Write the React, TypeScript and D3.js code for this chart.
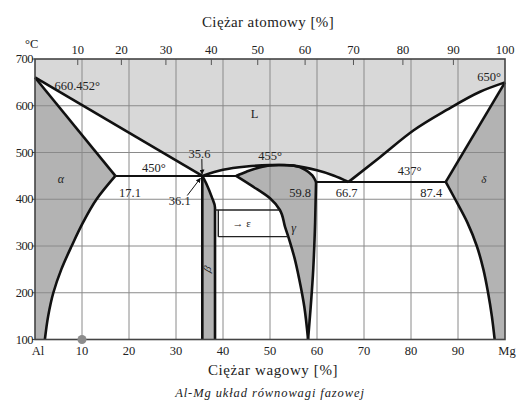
import React from 'react';
import * as d3 from 'd3';

type P = [number, number];

// axis data
const weightTicks = [0, 10, 20, 30, 40, 50, 60, 70, 80, 90, 100];
const weightLabels = ['Al', '10', '20', '30', '40', '50', '60', '70', '80', '90', 'Mg'];
const atomicTicks = [10, 20, 30, 40, 50, 60, 70, 80, 90, 100];
const tempTicks = [100, 200, 300, 400, 500, 600, 700];
const gridWeights = [10, 20, 30, 40, 50, 60, 70, 80, 90];
const gridTemps = [200, 300, 400, 500, 600];
const AL_MASS = 26.982;
const MG_MASS = 24.305;

// phase boundaries (wt% Mg, °C)
const liquidusLeft: P[] = [[0, 660.452], [35.6, 450]];
const liquidusDome: P[] = [[35.6, 450], [40, 463], [45, 470], [50, 473], [55, 472], [60, 462], [63.5, 451], [66.7, 437]];
const liquidusRight: P[] = [[66.7, 437], [73.4, 490], [80.5, 547], [87.6, 591], [94.7, 630], [100, 650]];
const alphaSolidus: P[] = [[0, 660.452], [17.1, 450]];
const alphaSolvus: P[] = [[17.1, 450], [13.1, 400], [10.2, 350], [7.8, 300], [5.6, 250], [3.9, 200], [2.8, 150], [2.1, 100]];
const betaLeft: P[] = [[35.6, 450], [35.6, 100]];
const betaRight: P[] = [[35.6, 450], [36.6, 430], [37.6, 405], [38.3, 382], [38.3, 300], [38.3, 100]];
const gammaTop: P[] = [[42.8, 450], [45, 459], [47, 466], [49.5, 472], [52, 473.2], [55, 472], [57.5, 463], [59, 451], [59.8, 437]];
const gammaRight: P[] = [[59.8, 437], [59.6, 350], [59.2, 250], [58.1, 100]];
const gammaLeft: P[] = [[42.8, 450], [46.4, 427], [50, 402], [52.1, 377], [53.2, 341], [54.2, 310], [55.2, 275], [56.2, 230], [57.3, 170], [58.1, 100]];
const deltaSolidus: P[] = [[87.4, 437], [100, 650]];
const deltaSolvus: P[] = [[87.4, 437], [89.4, 400], [92, 350], [94, 300], [95.4, 250], [96.4, 200], [97.2, 150], [97.8, 100]];
const eutecticLeft: P[] = [[17.1, 450], [42.8, 450]];
const eutecticRight: P[] = [[59.8, 437], [87.4, 437]];
const epsTop: P[] = [[38.3, 377], [52.1, 377]];
const epsBottom: P[] = [[39, 320], [53.9, 320]];
const epsLeft: P[] = [[39, 377], [39, 320]];
const markerPoint: P = [10, 100];

// annotations
const labels: { t: string; at: P; size?: number; italic?: boolean; rot?: number }[] = [
  { t: '660.452°', at: [9, 640] },
  { t: '650°', at: [96.6, 660] },
  { t: 'L', at: [46.7, 580] },
  { t: 'α', at: [5.5, 440], italic: true, size: 12 },
  { t: 'δ', at: [95.5, 440], italic: true, size: 11 },
  { t: '35.6', at: [35, 494] },
  { t: '450°', at: [25.3, 464] },
  { t: '455°', at: [50, 490] },
  { t: '437°', at: [79.7, 458] },
  { t: '17.1', at: [20.2, 412] },
  { t: '36.1', at: [30.8, 393] },
  { t: '59.8', at: [56.4, 412] },
  { t: '66.7', at: [66.3, 412] },
  { t: '87.4', at: [84.3, 412] },
  { t: 'γ', at: [55, 335], italic: true, size: 12 },
  { t: '→ ε', at: [44, 346], size: 11 },
  { t: 'β', at: [36.9, 250], italic: true, size: 11, rot: -70 },
];
const arrows: { from: P; to: P }[] = [
  { from: [35.5, 486], to: [35.55, 454] },
  { from: [32.4, 408], to: [35.2, 445] },
];

const W = 520;
const H = 401;
const FONT = '"Liberation Serif", "DejaVu Serif", "Times New Roman", Times, serif';

export default function App() {
  const x = d3.scaleLinear().domain([0, 100]).range([35, 505]);
  const y = d3.scaleLinear().domain([100, 700]).range([339.5, 59]);
  const atToWt = (a: number) => (a * MG_MASS) / (a * MG_MASS + (100 - a) * AL_MASS) * 100;

  const mk = (curve: d3.CurveFactory) =>
    d3.line<P>().x((d) => x(d[0])).y((d) => y(d[1])).curve(curve);
  const lin = mk(d3.curveLinear);
  const cat = mk(d3.curveCatmullRom.alpha(0.5));
  const monY = mk(d3.curveMonotoneY);
  const monX = mk(d3.curveMonotoneX);

  const join = (segs: string[]) =>
    segs.map((s, i) => (i === 0 ? s : s.replace(/^M/, 'L'))).join('') + 'Z';
  const rev = (a: P[]) => a.slice().reverse();

  const belowLiquidus = join([
    lin([[0, 100], ...liquidusLeft])!,
    cat(liquidusDome)!,
    monX(liquidusRight)!,
    lin([[100, 650], [100, 100]])!,
  ]);
  const alphaArea = join([lin([[0, 100], ...alphaSolidus])!, monY(alphaSolvus)!]);
  const betaArea = join([monY(betaRight)!, lin([[38.3, 100], [35.6, 100]])!]);
  const gammaArea = join([cat(gammaTop)!, monY(gammaRight)!, monY(rev(gammaLeft))!]);
  const deltaArea = join([lin([[100, 100], [100, 650], [87.4, 437]])!, monY(deltaSolvus)!]);

  const thick = { fill: 'none', stroke: '#111', strokeWidth: 2.6, strokeLinejoin: 'round' as const };
  const medium = { fill: 'none', stroke: '#111', strokeWidth: 2, strokeLinejoin: 'round' as const };
  const thin = { fill: 'none', stroke: '#222', strokeWidth: 1.4 };

  const x0 = x(0), x1 = x(100), yTop = y(700), yBot = y(100);

  return (
    <svg width={W} height={H} style={{ position: 'absolute', left: 0, top: 0, background: '#fff', fontFamily: FONT }}>
      <defs>
        <marker id="ah" viewBox="0 0 10 10" refX="9" refY="5" markerWidth="5" markerHeight="5" orient="auto">
          <path d="M0,0 L10,5 L0,10 Z" fill="#111" />
        </marker>
      </defs>
      {/* background */}
      <rect x={x0} y={yTop} width={x1 - x0} height={yBot - yTop} fill="#d8d8d8" />
      <path d={belowLiquidus} fill="#fff" />
      <path d={alphaArea} fill="#b3b3b3" />
      <path d={betaArea} fill="#b3b3b3" />
      <path d={gammaArea} fill="#b3b3b3" />
      <path d={deltaArea} fill="#b3b3b3" />

      {/* grid */}
      {gridWeights.map((w) => (
        <line key={'gw' + w} x1={x(w)} x2={x(w)} y1={yTop} y2={yBot} stroke="#8a8a8a" strokeWidth={1} />
      ))}
      {gridTemps.map((t) => (
        <line key={'gt' + t} x1={x0} x2={x1} y1={y(t)} y2={y(t)} stroke="#8a8a8a" strokeWidth={1} />
      ))}

      {/* phase lines */}
      <path d={lin(liquidusLeft)!} {...thick} />
      <path d={cat(liquidusDome)!} {...thick} />
      <path d={monX(liquidusRight)!} {...thick} />
      <path d={lin(alphaSolidus)!} {...thick} />
      <path d={monY(alphaSolvus)!} {...thick} />
      <path d={lin(betaLeft)!} {...thick} />
      <path d={monY(betaRight)!} {...thick} />
      <path d={cat(gammaTop)!} {...thick} />
      <path d={monY(gammaRight)!} {...thick} />
      <path d={monY(gammaLeft)!} {...thick} />
      <path d={lin(deltaSolidus)!} {...thick} />
      <path d={monY(deltaSolvus)!} {...thick} />
      <path d={lin(eutecticLeft)!} {...medium} />
      <path d={lin(eutecticRight)!} {...medium} />
      <path d={lin(epsTop)!} {...thin} />
      <path d={lin(epsBottom)!} {...thin} />
      <path d={lin(epsLeft)!} {...thin} />

      {/* frame */}
      <rect x={x0} y={yTop} width={x1 - x0} height={yBot - yTop} fill="none" stroke="#444" strokeWidth={1.6} />

      {/* marker point */}
      <circle cx={x(markerPoint[0])} cy={y(markerPoint[1])} r={4.5} fill="#8c8c8c" />

      {/* top axis */}
      {atomicTicks.map((a) => (
        <g key={'at' + a}>
          {a < 100 && <line x1={x(atToWt(a))} x2={x(atToWt(a))} y1={yTop} y2={yTop + 6} stroke="#555" strokeWidth={1} />}
          <text x={x(atToWt(a))} y={yTop - 5} fontSize={12.5} textAnchor="middle" fill="#222">{a}</text>
        </g>
      ))}
      <text x={268} y={27} fontSize={15} letterSpacing={0.4} textAnchor="middle" fill="#222">Ciężar atomowy [%]</text>
      <text x={25} y={48} fontSize={12.5} fill="#222">°C</text>

      {/* left axis */}
      {tempTicks.map((t) => (
        <g key={'tt' + t}>
          <line x1={x0 - 3} x2={x0} y1={y(t)} y2={y(t)} stroke="#444" strokeWidth={1} />
          <text x={x0 - 2} y={y(t) + 4} fontSize={12.5} textAnchor="end" fill="#222" letterSpacing={-0.5}>{t}</text>
        </g>
      ))}

      {/* bottom axis */}
      {weightTicks.map((w, i) => (
        <text key={'wt' + w} x={x(w) + (i === 0 ? 3 : i === 10 ? 2 : 0)} y={yBot + 15} fontSize={12.5} textAnchor="middle" fill="#222">
          {weightLabels[i]}
        </text>
      ))}
      <text x={273} y={375} fontSize={15} letterSpacing={0.6} textAnchor="middle" fill="#222">Ciężar wagowy [%]</text>
      <text x={270} y={397} fontSize={12.5} letterSpacing={0.9} fontStyle="italic" textAnchor="middle" fill="#222">Al-Mg układ równowagi fazowej</text>

      {/* annotations */}
      {labels.map((l, i) => {
        const px = x(l.at[0]);
        const py = y(l.at[1]);
        return (
          <text
            key={'lb' + i}
            x={px}
            y={py}
            fontSize={l.size ?? 12.5}
            fontStyle={l.italic ? 'italic' : 'normal'}
            textAnchor="middle"
            dominantBaseline="middle"
            fill="#222"
            transform={l.rot ? `rotate(${l.rot} ${px} ${py})` : undefined}
          >
            {l.t}
          </text>
        );
      })}
      {arrows.map((a, i) => (
        <line key={'ar' + i} x1={x(a.from[0])} y1={y(a.from[1])} x2={x(a.to[0])} y2={y(a.to[1])} stroke="#111" strokeWidth={1} markerEnd="url(#ah)" />
      ))}
    </svg>
  );
}
